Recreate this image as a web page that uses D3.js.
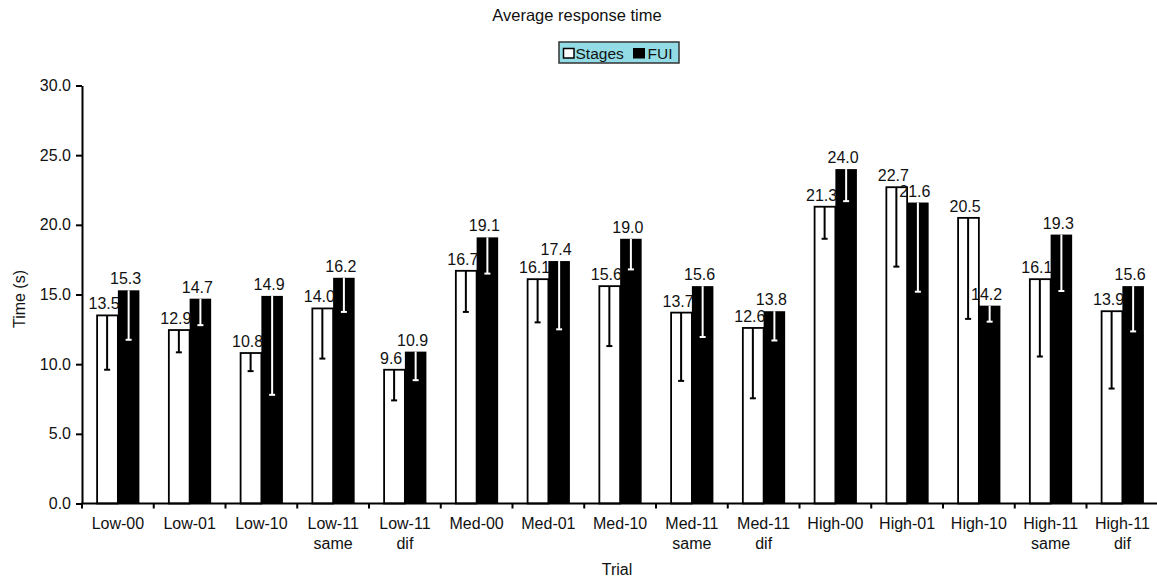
<!DOCTYPE html>
<html>
<head>
<meta charset="utf-8">
<script src="https://cdn.jsdelivr.net/npm/d3@7"></script>
<style>
  html, body { margin: 0; padding: 0; background: #fff; }
  svg { display: block; font-family: "Liberation Sans", Arial, Helvetica, sans-serif; }
</style>
</head>
<body>
<svg id="chart" width="1157" height="580"></svg>
<script>
// ---- data ----
const categories = ["Low-00", "Low-01", "Low-10", "Low-11 same", "Low-11 dif",
  "Med-00", "Med-01", "Med-10", "Med-11 same", "Med-11 dif",
  "High-00", "High-01", "High-10", "High-11 same", "High-11 dif"];
const seriesNames = ["Stages", "FUI"];
const stagesValues = [13.5, 12.45, 10.8, 14.0, 9.6, 16.7, 16.1, 15.6, 13.7, 12.6, 21.3, 22.7, 20.5, 16.1, 13.8];
const stagesLabels = ["13.5", "12.9", "10.8", "14.0", "9.6", "16.7", "16.1", "15.6", "13.7", "12.6", "21.3", "22.7", "20.5", "16.1", "13.9"];
const stagesErrors = [3.9, 1.6, 1.3, 3.6, 2.2, 2.95, 3.1, 4.3, 4.9, 5.05, 2.3, 5.7, 7.25, 5.55, 5.55];
const fuiValues = [15.3, 14.7, 14.9, 16.2, 10.9, 19.1, 17.4, 19.0, 15.6, 13.8, 24.0, 21.6, 14.2, 19.3, 15.6];
const fuiLabels = ["15.3", "14.7", "14.9", "16.2", "10.9", "19.1", "17.4", "19.0", "15.6", "13.8", "24.0", "21.6", "14.2", "19.3", "15.6"];
const fuiErrors = [3.55, 1.9, 7.1, 2.45, 2.05, 2.6, 4.9, 2.2, 3.65, 2.1, 2.3, 6.4, 1.15, 4.05, 3.25];
const yTicks = [0, 5, 10, 15, 20, 25, 30];

// ---- layout ----
const svg = d3.select("#chart");
const plotLeft = 82, plotRight = 1158.25, plotTop = 85.5, plotBottom = 503.5;

const x0 = d3.scaleBand().domain(categories).range([plotLeft, plotRight]).padding(0);
const x1 = d3.scaleBand().domain(seriesNames)
  .range([x0.bandwidth() * 0.2, x0.bandwidth() * 0.8]).padding(0);
const y = d3.scaleLinear().domain([0, 30]).range([plotBottom, plotTop]);

const rows = categories.map((c, i) => ([
  { cat: c, s: "Stages", v: stagesValues[i], label: stagesLabels[i], e: stagesErrors[i] },
  { cat: c, s: "FUI", v: fuiValues[i], label: fuiLabels[i], e: fuiErrors[i] }
]));
const flat = rows.flat();
const cx = d => x0(d.cat) + x1(d.s) + x1.bandwidth() / 2;

// title
svg.append("text").attr("x", 577).attr("y", 21).attr("text-anchor", "middle")
  .attr("font-size", 16.5).attr("fill", "#111").text("Average response time");

// legend
const lg = svg.append("g");
lg.append("rect").attr("x", 559).attr("y", 42).attr("width", 120).attr("height", 21)
  .attr("fill", "#93dce5").attr("stroke", "#333").attr("stroke-width", 1.5);
lg.append("rect").attr("x", 563.5).attr("y", 48.5).attr("width", 10.5).attr("height", 9.5)
  .attr("fill", "#fff").attr("stroke", "#000").attr("stroke-width", 1.5);
lg.append("text").attr("x", 575.5).attr("y", 58.5).attr("font-size", 15.5).attr("fill", "#111").text(seriesNames[0]);
lg.append("rect").attr("x", 633).attr("y", 48).attr("width", 12).attr("height", 10.5).attr("fill", "#000");
lg.append("text").attr("x", 647.5).attr("y", 58.5).attr("font-size", 15.5).attr("fill", "#111").text(seriesNames[1]);

// bars
svg.append("g").selectAll("rect").data(flat).join("rect")
  .attr("x", d => x0(d.cat) + x1(d.s) + (d.s === "Stages" ? 0.75 : 0))
  .attr("y", d => y(d.v))
  .attr("width", d => x1.bandwidth() - (d.s === "Stages" ? 0.75 : 0))
  .attr("height", d => plotBottom - y(d.v))
  .attr("fill", d => d.s === "Stages" ? "#fff" : "#000")
  .attr("stroke", "#000")
  .attr("stroke-width", d => d.s === "Stages" ? 1.8 : 0);

// error bars (lower half only)
const eg = svg.append("g");
eg.selectAll("line.v").data(flat).join("line").attr("class", "v")
  .attr("x1", cx).attr("x2", cx)
  .attr("y1", d => y(d.v)).attr("y2", d => y(d.v - d.e))
  .attr("stroke", d => d.s === "Stages" ? "#000" : "#fff").attr("stroke-width", 2);
eg.selectAll("line.c").data(flat).join("line").attr("class", "c")
  .attr("x1", d => cx(d) - 3).attr("x2", d => cx(d) + 3)
  .attr("y1", d => y(d.v - d.e)).attr("y2", d => y(d.v - d.e))
  .attr("stroke", d => d.s === "Stages" ? "#000" : "#fff").attr("stroke-width", 2);

// value labels (on top)
svg.append("g").selectAll("text").data(flat).join("text")
  .attr("x", d => cx(d) - 3)
  .attr("y", d => y(d.v) - 6)
  .attr("text-anchor", "middle")
  .attr("font-size", 16).attr("fill", "#111")
  .text(d => d.label);

// y axis
const yAxis = d3.axisLeft(y).tickValues(yTicks).tickFormat(d3.format(".1f")).tickSize(6).tickSizeOuter(0).tickPadding(5);
const yg = svg.append("g").attr("transform", `translate(${plotLeft},0)`).call(yAxis);
yg.select(".domain").attr("stroke", "#000").attr("stroke-width", 2);
yg.selectAll(".tick line").attr("stroke", "#000").attr("stroke-width", 2);
yg.selectAll(".tick text").attr("font-size", 16).attr("fill", "#111")
  .attr("font-family", "'Liberation Sans', Arial, sans-serif");

// x axis
svg.append("line").attr("x1", plotLeft - 1).attr("x2", 1157).attr("y1", plotBottom).attr("y2", plotBottom)
  .attr("stroke", "#000").attr("stroke-width", 2);
svg.append("g").selectAll("line").data(categories).join("line")
  .attr("x1", d => x0(d)).attr("x2", d => x0(d))
  .attr("y1", plotBottom).attr("y2", plotBottom + 5)
  .attr("stroke", "#000").attr("stroke-width", 2);

const xl = svg.append("g").selectAll("text").data(categories).join("text")
  .attr("text-anchor", "middle").attr("font-size", 16).attr("fill", "#111")
  .attr("transform", d => `translate(${x0(d) + x0.bandwidth() / 2},0)`);
xl.each(function (d) {
  const parts = d.split(" ");
  const t = d3.select(this);
  parts.forEach((p, i) => t.append("tspan").attr("x", 0).attr("y", 528.5 + i * 20).text(p));
});

// axis titles
svg.append("text").attr("x", 617).attr("y", 575).attr("text-anchor", "middle")
  .attr("font-size", 16).attr("fill", "#111").text("Trial");
svg.append("text").attr("transform", "translate(25,299) rotate(-90)").attr("text-anchor", "middle")
  .attr("font-size", 16).attr("fill", "#111").text("Time (s)");
</script>
</body>
</html>
